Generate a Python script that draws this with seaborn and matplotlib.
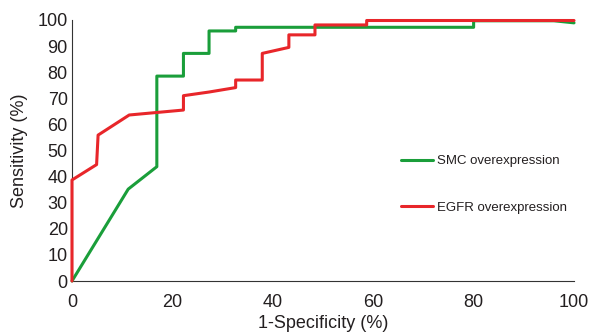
import pandas as pd
import numpy as np
import matplotlib.pyplot as plt
import seaborn as sns

# ROC points (1-specificity %, sensitivity %)
smc_x = [0, 11.2, 16.9, 16.9, 22.2, 22.2, 27.3, 27.3, 32.6, 32.6, 80, 80, 96, 100]
smc_y = [0, 35.2, 43.8, 78.5, 78.5, 87.2, 87.2, 95.8, 95.8, 97.2, 97.2, 99.7, 99.7, 98.9]

egfr_x = [0, 0, 4.9, 5.2, 11.4, 22.2, 22.2, 27.3, 32.6, 32.6, 37.9, 37.9, 43.2, 43.2, 48.4, 48.4, 58.7, 58.7, 100]
egfr_y = [0, 38.7, 44.6, 55.9, 63.6, 65.5, 71.0, 72.4, 74.1, 77.0, 77.0, 87.2, 89.5, 94.3, 94.3, 98.1, 98.1, 99.8, 99.8]

labels = ['SMC overexpression', 'EGFR overexpression']

df = pd.concat([
    pd.DataFrame({'x': smc_x, 'y': smc_y, 'group': labels[0]}),
    pd.DataFrame({'x': egfr_x, 'y': egfr_y, 'group': labels[1]}),
], ignore_index=True)

sns.set_style('white')
plt.rcParams['font.family'] = ['Liberation Sans', 'DejaVu Sans']

fig = plt.figure(figsize=(5.93, 3.32), dpi=100)
ax = fig.add_axes([0.1214, 0.1536, 0.8466, 0.7862])

sns.lineplot(data=df, x='x', y='y', hue='group', sort=False, estimator=None,
             palette={labels[0]: '#1a9e3a', labels[1]: '#e8262a'},
             linewidth=2.2, ax=ax)
# curves sit on top of the axis lines, like the reference
for line in ax.get_lines():
    line.set_clip_on(False)
    line.set_zorder(5)

ax.set_xlim(0, 100)
ax.set_ylim(0, 100)
ax.set_xticks(np.arange(0, 101, 20))
ax.set_yticks(np.arange(0, 101, 10))
ax.tick_params(direction='in', length=4, width=0.8, colors='#333333', labelsize=13,
               labelcolor='#231f20')
ax.tick_params(axis='x', pad=9)
ax.tick_params(axis='y', pad=3)
for s in ['top', 'right']:
    ax.spines[s].set_visible(False)
for s in ['left', 'bottom']:
    ax.spines[s].set_color('#333333')
    ax.spines[s].set_linewidth(0.8)

ax.set_xlabel('1-Specificity (%)', fontsize=13, color='#231f20', labelpad=3)
ax.set_ylabel('Sensitivity (%)', fontsize=13, color='#231f20', labelpad=7)

leg = ax.legend(loc='center left', bbox_to_anchor=(0.632, 0.37), frameon=False,
                fontsize=9.5, labelspacing=2.6, handlelength=2.4, handletextpad=0.3)
for line in leg.get_lines():
    line.set_linewidth(2.2)
for t in leg.get_texts():
    t.set_color('#231f20')

fig.savefig('out.png', dpi=100)
